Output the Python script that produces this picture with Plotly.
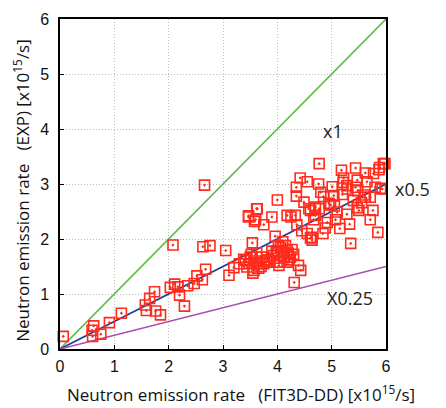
import plotly.graph_objects as go

# data points: FIT3D-DD (x) vs EXP (y), units 1e15/s
fit3d = [0.06, 0.60, 0.59, 0.62, 0.75, 0.91, 1.13, 1.57, 1.59, 1.65, 1.74, 1.76, 1.85,
         2.03, 2.11, 2.17, 2.20, 2.29, 2.35, 2.47, 2.52, 2.62, 2.68, 2.08, 2.63, 2.76, 3.05, 3.11, 2.66,
         3.41, 3.50, 3.44, 3.57, 3.63, 3.72, 3.75, 3.80, 3.93, 4.00, 4.06, 4.12, 4.18, 4.27, 4.24,
         4.03, 4.18, 4.39, 4.43, 4.31, 3.52, 3.60, 3.66, 3.48, 3.55, 3.70, 3.85, 3.95, 4.08, 4.15,
         4.10, 4.20, 4.02, 3.98, 4.22, 4.30, 3.38, 3.62, 3.82, 4.12, 4.05, 3.90,
         3.54, 3.96, 4.61, 4.63, 4.64, 4.84, 5.35, 5.85, 4.36,
         3.47, 3.60, 3.63, 3.75, 3.90, 4.18, 4.33, 4.61, 4.67, 4.70, 4.58, 4.77, 4.95, 5.07,
         5.10, 5.15, 5.28, 5.33, 5.50, 5.71, 5.76, 4.49, 4.00, 4.35, 4.35, 4.85, 5.01, 5.04, 5.20,
         4.42, 4.55, 4.76, 5.22, 5.21, 5.28, 5.29, 5.44, 5.47, 5.48, 5.62, 5.65, 5.80, 5.90, 5.93,
         4.77, 5.18, 5.44, 5.62, 5.77, 5.87, 5.95, 5.98, 5.71, 5.47, 4.70, 4.98, 5.55, 5.88,
         3.47, 3.62, 3.58, 4.55, 4.88, 5.60, 5.40, 4.80, 5.05, 3.30, 3.20, 4.45, 4.25, 4.92]
exp_ = [0.23, 0.23, 0.34, 0.42, 0.27, 0.48, 0.65, 0.80, 0.70, 0.92, 1.04, 0.69, 0.62,
        1.12, 1.18, 1.13, 0.98, 0.78, 1.15, 1.19, 1.33, 1.26, 1.45, 1.89, 1.86, 1.88, 1.79, 1.34, 2.98,
        1.61, 1.67, 1.49, 1.43, 1.55, 1.67, 1.55, 1.62, 1.70, 1.79, 1.84, 1.76, 1.80, 1.81, 1.67,
        1.52, 1.58, 1.52, 1.43, 1.21, 1.72, 1.60, 1.47, 1.55, 1.38, 1.50, 1.58, 1.65, 1.70, 1.88,
        1.95, 1.74, 1.88, 1.75, 1.62, 1.72, 1.63, 1.75, 1.60, 1.66, 1.58, 1.78,
        1.93, 2.05, 2.02, 2.03, 1.98, 2.10, 1.92, 2.12, 2.26,
        2.40, 2.35, 2.55, 2.26, 2.40, 2.43, 2.43, 2.52, 2.35, 2.43, 2.55, 2.55, 2.65, 2.35,
        2.49, 2.19, 2.45, 2.27, 2.52, 2.35, 2.52, 2.67, 2.71, 2.94, 2.78, 2.77, 2.95, 2.79, 2.81,
        3.11, 3.04, 3.00, 3.11, 3.03, 2.97, 2.91, 2.94, 3.07, 2.88, 2.76, 3.04, 2.94, 2.92, 2.91,
        3.37, 3.25, 3.29, 3.20, 3.19, 3.26, 3.37, 3.37, 2.76, 2.57, 2.58, 2.62, 2.66, 3.30,
        2.42, 2.55, 2.32, 2.10, 2.20, 2.80, 2.70, 2.85, 2.60, 1.55, 1.48, 2.15, 2.40, 2.30]

ref_x = [0, 6]
ratios = [1.0, 0.5, 0.25]
ratio_colors = ["#5cbf4a", "#1f3b99", "#a64fb5"]
ratio_labels = ["x1", "x0.5", "X0.25"]
x_title = "Neutron emission rate   (FIT3D-DD) [x10<sup>15</sup>/s]"
y_title = "Neutron emission rate   (EXP) [x10<sup>15</sup>/s]"

FONT = "Open Sans, Liberation Sans, Arial"

fig = go.Figure()
for r, c in zip(ratios, ratio_colors):
    fig.add_trace(go.Scatter(x=ref_x, y=[v * r for v in ref_x], mode="lines",
                             line=dict(color=c, width=1.6), showlegend=False,
                             hoverinfo="skip"))

fig.add_trace(go.Scatter(x=fit3d, y=exp_, mode="markers", showlegend=False,
                         marker=dict(symbol="square-open-dot", size=10, color="#ff2b1c",
                                     line=dict(width=1.6, color="#ff2b1c")),
                         cliponaxis=False))

lab_font = dict(family=FONT, size=18, color="#222")
anc = dict(showarrow=False, xanchor="center", yanchor="middle")
fig.add_annotation(x=5.03, y=3.97, text=ratio_labels[0], font=lab_font, **anc)
fig.add_annotation(xref="paper", yref="paper", x=1.08, y=0.485, text=ratio_labels[1],
                   font=lab_font, **anc)
fig.add_annotation(x=5.34, y=0.92, text=ratio_labels[2], font=lab_font, **anc)

title_font = dict(family=FONT, size=17, color="#111")
fig.add_annotation(xref="paper", yref="paper", x=0.555, y=-0.136, text=x_title,
                   font=title_font, **anc)
fig.add_annotation(xref="paper", yref="paper", x=-0.117, y=0.482, text=y_title,
                   textangle=-90, font=title_font, **anc)

axis_common = dict(range=[0, 6], dtick=1, showgrid=True, gridcolor="#bdbdbd",
                   griddash="1px,2px", gridwidth=1, showline=True, linecolor="black",
                   linewidth=1.5, mirror=True, ticks="inside", ticklen=4,
                   tickcolor="black", zeroline=False,
                   tickfont=dict(family="Liberation Sans, Arial", size=16, color="#111"))

fig.update_layout(
    width=446, height=408,
    margin=dict(l=60, r=60, t=11, b=59),
    plot_bgcolor="white", paper_bgcolor="white",
    font=dict(family=FONT, color="#111"),
    xaxis=dict(**axis_common, ticklabelstandoff=2),
    yaxis=dict(**axis_common, ticklabelstandoff=6),
)

fig.write_html("out.html")
